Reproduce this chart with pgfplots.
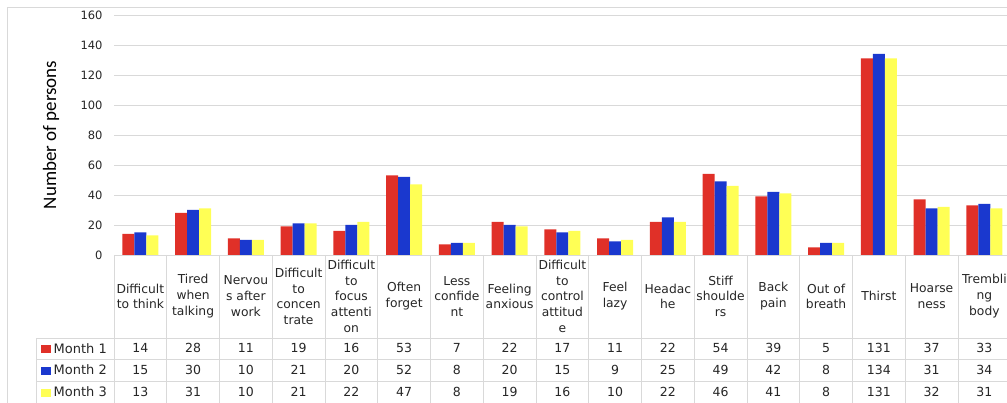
\documentclass[border=0pt]{standalone}
\usepackage{pgfplots}
\pgfplotsset{compat=1.18}
\usepackage{pgfplotstable}
\usepackage{graphicx}
\usepackage{fontspec}
\setmainfont{DejaVu Sans}
\newfontfamily\labfont{Carlito}

\definecolor{mred}{RGB}{224,48,40}
\definecolor{mblue}{RGB}{26,56,206}
\definecolor{myellow}{RGB}{255,255,85}
\definecolor{gridgray}{RGB}{217,217,217}

\pgfplotstableread{
idx m1 m2 m3
0 14 15 13
1 28 30 31
2 11 10 10
3 19 21 21
4 16 20 22
5 53 52 47
6 7 8 8
7 22 20 19
8 17 15 16
9 11 9 10
10 22 25 22
11 54 49 46
12 39 42 41
13 5 8 8
14 131 134 131
15 37 31 32
16 33 34 31
}\data

\begin{document}
\begin{tikzpicture}[x=1pt,y=1pt]
\path[use as bounding box] (0pt,0pt) rectangle (1007pt,403pt);
\draw[gridgray, line width=0.8pt] (7.5pt,-5pt) -- (7.5pt,395.5pt) -- (1015pt,395.5pt);
\begin{axis}[
  at={(114pt,148pt)}, anchor=south west,
  scale only axis, width=896.75pt, height=240pt,
  xmin=-0.5, xmax=16.5, ymin=0, ymax=160,
  clip=false,
  axis line style={draw=none},
  major tick length=0pt,
  ytick={0,20,...,160},
  xtick={0,...,16},
  xticklabels={{Difficult\\to think},{Tired\\when\\talking},{Nervou\\s after\\work},{Difficult\\to\\concen\\trate},{Difficult\\to\\focus\\attenti\\on},{Often\\forget},{Less\\confide\\nt},{Feeling\\anxious},{Difficult\\to\\control\\attitud\\e},{Feel\\lazy},{Headac\\he},{Stiff\\shoulde\\rs},{Back\\pain},{Out of\\breath},{Thirst},{Hoarse\\ness},{Trembli\\ng\\body}},
  xticklabel style={font=\fontsize{12.3}{15.7}\selectfont, align=center, anchor=center, yshift=-41.3pt, text=black!85},
  yticklabel style={font=\fontsize{11.5}{13}\selectfont, xshift=-8pt, text=black!85},
  /pgf/number format/assume math mode=true,
  ymajorgrids, grid style={gridgray, line width=0.9pt},
  ylabel={Number of persons},
  ylabel style={font=\labfont\fontsize{19}{22}\selectfont, at={(axis description cs:-0.0703,0.5)}, anchor=center},
]
\addplot[ybar, bar width=12pt, bar shift=-12pt, fill=mred, draw=none] table[x=idx,y=m1]{\data};
\addplot[ybar, bar width=12pt, bar shift=0pt, fill=mblue, draw=none] table[x=idx,y=m2]{\data};
\addplot[ybar, bar width=12pt, bar shift=12pt, fill=myellow, draw=none] table[x=idx,y=m3]{\data};

\addplot[draw=none, mark=none, nodes near coords, point meta=explicit,
  every node near coord/.append style={anchor=center, font=\fontsize{12.5}{14}\selectfont, text=black!85}]
  table[x=idx, y expr=-62.2, meta=m1]{\data};
\addplot[draw=none, mark=none, nodes near coords, point meta=explicit,
  every node near coord/.append style={anchor=center, font=\fontsize{12.5}{14}\selectfont, text=black!85}]
  table[x=idx, y expr=-76.7, meta=m2]{\data};
\addplot[draw=none, mark=none, nodes near coords, point meta=explicit,
  every node near coord/.append style={anchor=center, font=\fontsize{12.5}{14}\selectfont, text=black!85}]
  table[x=idx, y expr=-91.1, meta=m3]{\data};
\end{axis}
\foreach \k in {0,...,17} \draw[gridgray, line width=0.8pt] ({114+52.75*\k},148) -- ({114+52.75*\k},-2);
\draw[gridgray, line width=0.8pt] (36pt,64.7pt) -- (36pt,-2pt);
\foreach \y in {64.7,43.7,22} \draw[gridgray, line width=0.8pt] (36,\y) -- (1015,\y);
\node[anchor=west, inner sep=0, font=\fontsize{13}{14}\selectfont, text=black!85] at (41pt,54.7pt) {\textcolor{mred}{\rule{9.5pt}{8pt}}\hspace{3pt}Month 1};
\node[anchor=west, inner sep=0, font=\fontsize{13}{14}\selectfont, text=black!85] at (41pt,33.2pt) {\textcolor{mblue}{\rule{9.5pt}{8pt}}\hspace{3pt}Month 2};
\node[anchor=west, inner sep=0, font=\fontsize{13}{14}\selectfont, text=black!85] at (41pt,11.3pt) {\textcolor{myellow}{\rule{9.5pt}{8pt}}\hspace{3pt}Month 3};
\end{tikzpicture}
\end{document}
